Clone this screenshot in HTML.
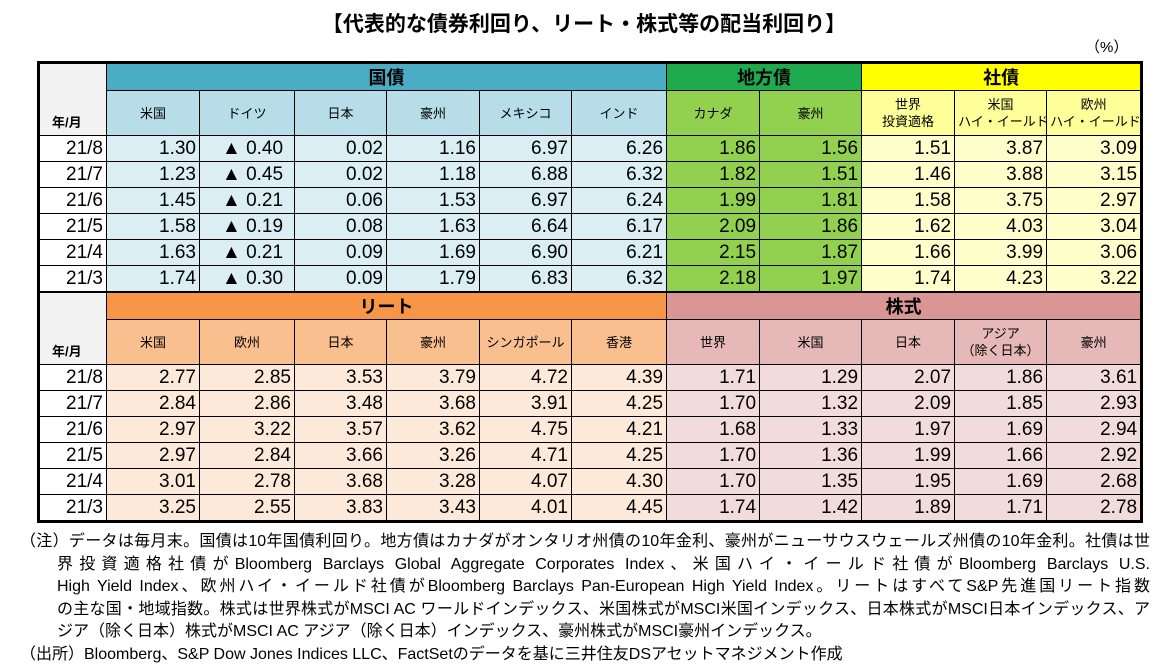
<!DOCTYPE html>
<html><head><meta charset="utf-8"><style>
body{margin:0;width:1168px;height:668px;background:#fff;font-family:"Liberation Sans","Noto Sans CJK JP",sans-serif;position:relative;overflow:hidden;color:#000}
.title{position:absolute;left:0;width:1168px;top:8px;text-align:center;font-size:21px;font-weight:bold}
.pct{position:absolute;left:1085px;top:36px;font-size:15px}
table{position:absolute;left:37px;top:61px;width:1103px;border-collapse:collapse;table-layout:fixed;border:3px solid #000}
td{border:1px solid #000;padding:0 3px;overflow:hidden;white-space:nowrap}
.h1 td{height:26px;font-size:18px;font-weight:bold;text-align:center}
.h2 td{height:44px;font-size:13px;text-align:center;line-height:17px}
.d td{height:25px;font-size:19px;text-align:right;line-height:25px}
.yl{background:#f2f2f2;font-size:13px!important;text-align:left!important;vertical-align:bottom;padding:0 0 4px 12px!important}
.ym{background:#fff}
.sep td{border-top:2px solid #000}
.a1{background:#4bacc6}.a2{background:#b7dee8}.a3{background:#daeef3}
.b1{background:#1fab4d}.b2{background:#92d050}.b3{background:#92d050}
.c1{background:#ffff00}.c2{background:#ffff99}.c3{background:#ffffcc}
.e1{background:#f79646}.e2{background:#fabf8f}.e3{background:#fde9d9}
.f1{background:#da9694}.f2{background:#e6b8b7}.f3{background:#f2dcdb}
.notes{position:absolute;left:20px;top:531px;width:1130px;font-size:16px;line-height:22.6px}
.notes div{white-space:nowrap}
.j{text-align:justify;text-align-last:justify;white-space:normal!important}
.ind{padding-left:37px}
</style></head><body>
<div class="title">【代表的な債券利回り、リート・株式等の配当利回り】</div>
<div class="pct">（%）</div>
<table>
<colgroup><col style="width:68px"><col style="width:93px"><col style="width:95px"><col style="width:92px"><col style="width:93px"><col style="width:92px"><col style="width:95px"><col style="width:93px"><col style="width:102px"><col style="width:93px"><col style="width:92px"><col style="width:95px"></colgroup>
<tr class="h1"><td class="yl" rowspan="2">年/月</td><td class="a1" colspan="6">国債</td><td class="b1" colspan="2">地方債</td><td class="c1" colspan="3">社債</td></tr>
<tr class="h2"><td class="a2">米国</td><td class="a2">ドイツ</td><td class="a2">日本</td><td class="a2">豪州</td><td class="a2">メキシコ</td><td class="a2">インド</td><td class="b2">カナダ</td><td class="b2">豪州</td><td class="c2">世界<br>投資適格</td><td class="c2">米国<br>ハイ・イールド</td><td class="c2">欧州<br>ハイ・イールド</td></tr>
<tr class="d"><td class="ym">21/8</td><td class="a3">1.30</td><td class="a3" style="text-align:left;padding-left:22px">▲ 0.40</td><td class="a3">0.02</td><td class="a3">1.16</td><td class="a3">6.97</td><td class="a3">6.26</td><td class="b3">1.86</td><td class="b3">1.56</td><td class="c3">1.51</td><td class="c3">3.87</td><td class="c3">3.09</td></tr>
<tr class="d"><td class="ym">21/7</td><td class="a3">1.23</td><td class="a3" style="text-align:left;padding-left:22px">▲ 0.45</td><td class="a3">0.02</td><td class="a3">1.18</td><td class="a3">6.88</td><td class="a3">6.32</td><td class="b3">1.82</td><td class="b3">1.51</td><td class="c3">1.46</td><td class="c3">3.88</td><td class="c3">3.15</td></tr>
<tr class="d"><td class="ym">21/6</td><td class="a3">1.45</td><td class="a3" style="text-align:left;padding-left:22px">▲ 0.21</td><td class="a3">0.06</td><td class="a3">1.53</td><td class="a3">6.97</td><td class="a3">6.24</td><td class="b3">1.99</td><td class="b3">1.81</td><td class="c3">1.58</td><td class="c3">3.75</td><td class="c3">2.97</td></tr>
<tr class="d"><td class="ym">21/5</td><td class="a3">1.58</td><td class="a3" style="text-align:left;padding-left:22px">▲ 0.19</td><td class="a3">0.08</td><td class="a3">1.63</td><td class="a3">6.64</td><td class="a3">6.17</td><td class="b3">2.09</td><td class="b3">1.86</td><td class="c3">1.62</td><td class="c3">4.03</td><td class="c3">3.04</td></tr>
<tr class="d"><td class="ym">21/4</td><td class="a3">1.63</td><td class="a3" style="text-align:left;padding-left:22px">▲ 0.21</td><td class="a3">0.09</td><td class="a3">1.69</td><td class="a3">6.90</td><td class="a3">6.21</td><td class="b3">2.15</td><td class="b3">1.87</td><td class="c3">1.66</td><td class="c3">3.99</td><td class="c3">3.06</td></tr>
<tr class="d"><td class="ym">21/3</td><td class="a3">1.74</td><td class="a3" style="text-align:left;padding-left:22px">▲ 0.30</td><td class="a3">0.09</td><td class="a3">1.79</td><td class="a3">6.83</td><td class="a3">6.32</td><td class="b3">2.18</td><td class="b3">1.97</td><td class="c3">1.74</td><td class="c3">4.23</td><td class="c3">3.22</td></tr>
<tr class="h1 sep"><td class="yl" rowspan="2">年/月</td><td class="e1" colspan="6">リート</td><td class="f1" colspan="5">株式</td></tr>
<tr class="h2"><td class="e2">米国</td><td class="e2">欧州</td><td class="e2">日本</td><td class="e2">豪州</td><td class="e2">シンガポール</td><td class="e2">香港</td><td class="f2">世界</td><td class="f2">米国</td><td class="f2">日本</td><td class="f2">アジア<br>（除く日本）</td><td class="f2">豪州</td></tr>
<tr class="d"><td class="ym">21/8</td><td class="e3">2.77</td><td class="e3">2.85</td><td class="e3">3.53</td><td class="e3">3.79</td><td class="e3">4.72</td><td class="e3">4.39</td><td class="f3">1.71</td><td class="f3">1.29</td><td class="f3">2.07</td><td class="f3">1.86</td><td class="f3">3.61</td></tr>
<tr class="d"><td class="ym">21/7</td><td class="e3">2.84</td><td class="e3">2.86</td><td class="e3">3.48</td><td class="e3">3.68</td><td class="e3">3.91</td><td class="e3">4.25</td><td class="f3">1.70</td><td class="f3">1.32</td><td class="f3">2.09</td><td class="f3">1.85</td><td class="f3">2.93</td></tr>
<tr class="d"><td class="ym">21/6</td><td class="e3">2.97</td><td class="e3">3.22</td><td class="e3">3.57</td><td class="e3">3.62</td><td class="e3">4.75</td><td class="e3">4.21</td><td class="f3">1.68</td><td class="f3">1.33</td><td class="f3">1.97</td><td class="f3">1.69</td><td class="f3">2.94</td></tr>
<tr class="d"><td class="ym">21/5</td><td class="e3">2.97</td><td class="e3">2.84</td><td class="e3">3.66</td><td class="e3">3.26</td><td class="e3">4.71</td><td class="e3">4.25</td><td class="f3">1.70</td><td class="f3">1.36</td><td class="f3">1.99</td><td class="f3">1.66</td><td class="f3">2.92</td></tr>
<tr class="d"><td class="ym">21/4</td><td class="e3">3.01</td><td class="e3">2.78</td><td class="e3">3.68</td><td class="e3">3.28</td><td class="e3">4.07</td><td class="e3">4.30</td><td class="f3">1.70</td><td class="f3">1.35</td><td class="f3">1.95</td><td class="f3">1.69</td><td class="f3">2.68</td></tr>
<tr class="d"><td class="ym">21/3</td><td class="e3">3.25</td><td class="e3">2.55</td><td class="e3">3.83</td><td class="e3">3.43</td><td class="e3">4.01</td><td class="e3">4.45</td><td class="f3">1.74</td><td class="f3">1.42</td><td class="f3">1.89</td><td class="f3">1.71</td><td class="f3">2.78</td></tr>
</table>
<div class="notes">
<div class="j">（注）データは毎月末。国債は10年国債利回り。地方債はカナダがオンタリオ州債の10年金利、豪州がニューサウスウェールズ州債の10年金利。社債は世</div>
<div class="j ind">界投資適格社債がBloomberg Barclays Global Aggregate Corporates Index、米国ハイ・イールド社債がBloomberg Barclays U.S.</div>
<div class="j ind">High Yield Index、欧州ハイ・イールド社債がBloomberg Barclays Pan-European High Yield Index。リートはすべてS&amp;P先進国リート指数</div>
<div class="j ind">の主な国・地域指数。株式は世界株式がMSCI AC ワールドインデックス、米国株式がMSCI米国インデックス、日本株式がMSCI日本インデックス、ア</div>
<div class="ind">ジア（除く日本）株式がMSCI AC アジア（除く日本）インデックス、豪州株式がMSCI豪州インデックス。</div>
<div>（出所）Bloomberg、S&amp;P Dow Jones Indices LLC、FactSetのデータを基に三井住友DSアセットマネジメント作成</div>
</div>
</body></html>
